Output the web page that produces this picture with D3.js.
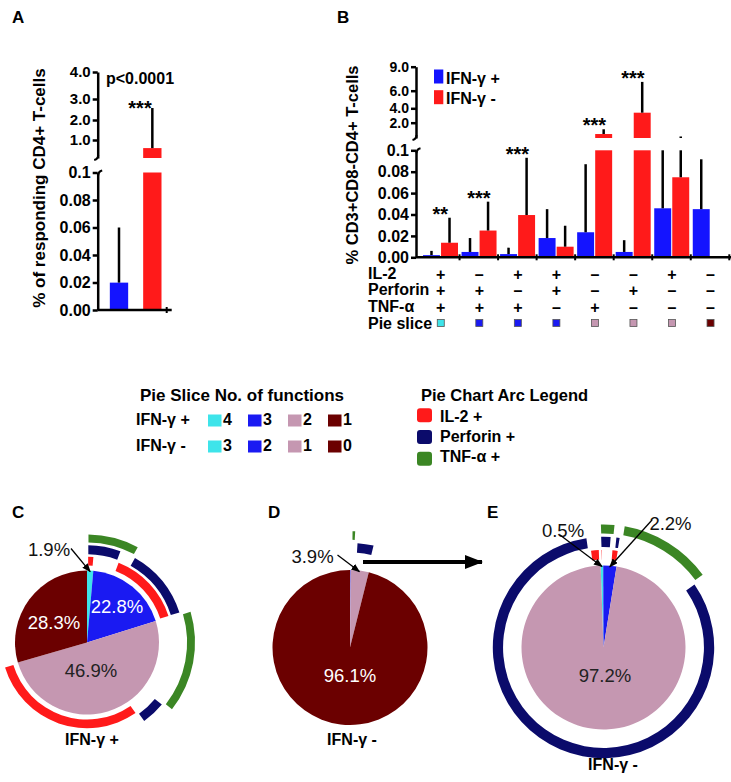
<!DOCTYPE html>
<html>
<head>
<meta charset="utf-8">
<script src="https://cdn.jsdelivr.net/npm/d3@7/dist/d3.min.js"></script>
<style>
  body { margin: 0; background: #fff; }
  svg text { font-family: "Liberation Sans", Arial, sans-serif; }
</style>
</head>
<body>
<svg id="fig" width="731" height="782"></svg>
<script>
// ---- panel A: total responding CD4+ T-cells
var aGroups = ["IFN-γ +", "IFN-γ -"];
var aValues = [0.0199, 0.55];
var aErrors = [0.06, 2.57];
var aUpperTicks = [1, 2, 3, 4];
var aUpperLabels = ["1.0", "2.0", "3.0", "4.0"];

// lower (0 - 0.1) segment, same for A and B
var lowTicks = [0, 0.02, 0.04, 0.06, 0.08, 0.1];
var lowLabels = ["0.00", "0.02", "0.04", "0.06", "0.08", "0.1"];

// ---- panel B: function combos (IL-2, Perforin, TNF-α)
var combos = ["+++", "-++", "+-+", "++-", "--+", "-+-", "+--", "---"];
var posValues = [0.002, 0.005, 0.003, 0.018, 0.0234, 0.005, 0.0458, 0.045];
var posErrors = [0.006, 0.018, 0.009, 0.045, 0.087, 0.016, 0.1, 0.0916];
var negValues = [0.0136, 0.025, 0.0395, 0.0099, 0.52, 3.39, 0.0748, 0];
var negErrors = [0.037, 0.052, 0.093, 0.0295, 1.14, 7.1, 0.2, 0];
var stars = ["**", "***", "***", "", "***", "***", "", ""];
var bUpperTicks = [2, 4, 6, 9];
var bUpperLabels = ["2.0", "4.0", "6.0", "9.0"];
var functionNames = ["IL-2", "Perforin", "TNF-α"];

// ---- legends
var sliceColors = ["#3ee4ea", "#1a1af2", "#c597b1", "#6b0000"];
var posFunctionCounts = ["4", "3", " 2", "1"];
var negFunctionCounts = ["3", "2", " 1", "0"];
var arcNames = ["IL-2 +", "Perforin +", "TNF-α +"];
var arcColors = ["#ff1a1a", "#0b0b6b", "#3b8624"];
var barColors = {pos: "#1414ff", neg: "#ff1a1a"};

// ---- pies (percent of each combo, same order as combos)
var pieCValues = [1.4, 4.4, 2.2, 12.2, 15.6, 4.4, 30.3, 29.5];
var pieCLabels = ["1.9%", "22.8%", "46.9%", "28.3%"];
var pieDValues = [0.02, 0.05, 0.02, 0.04, 0.8, 2.9, 0.07, 96.1];
var pieDLabels = ["3.9%", "96.1%"];
var pieECombos = ["+++", "-++", "+-+", "++-", "--+", "-+-", "+--"];
var pieEValues = [0.5, 1.3, 0.4, 0.9, 12.6, 82.6, 1.7];
var pieELabels = ["0.5%", "2.2%", "97.2%"];


var svg = d3.select("#fig");

var defs = svg.append("defs");
defs.append("marker").attr("id", "headSmall")
    .attr("markerUnits", "userSpaceOnUse").attr("markerWidth", 9).attr("markerHeight", 7)
    .attr("refX", 8).attr("refY", 3.5).attr("orient", "auto")
  .append("path").attr("d", "M0,0L9,3.5L0,7z").attr("fill", "#000");
defs.append("marker").attr("id", "headBig")
    .attr("markerUnits", "userSpaceOnUse").attr("markerWidth", 18).attr("markerHeight", 14)
    .attr("refX", 17).attr("refY", 7).attr("orient", "auto")
  .append("path").attr("d", "M0,0L18,7L0,14z").attr("fill", "#000");

function boldText(x, y, txt, size, anchor) {
  return svg.append("text").attr("x", x).attr("y", y)
    .attr("font-size", size).attr("font-weight", "bold")
    .attr("text-anchor", anchor || "start").text(txt);
}

function styleAxis(g) {
  g.selectAll(".domain, .tick line").attr("stroke", "#000").attr("stroke-width", 2.5);
  g.selectAll(".tick text").attr("font-weight", "bold").attr("fill", "#000");
}

// y axis in two segments, with small hooks where it is broken
function drawYAxis(x, lower, upper, upTicks, upLabels, upSize) {
  var g = svg.append("g").attr("transform", "translate(" + x + ",0)");
  g.append("g").call(d3.axisLeft(lower).tickValues(lowTicks)
      .tickFormat(function(d, i) { return lowLabels[i]; })
      .tickSize(5).tickSizeOuter(0).tickPadding(2))
    .selectAll(".tick text").attr("font-size", 16);
  g.append("g").call(d3.axisLeft(upper).tickValues(upTicks)
      .tickFormat(function(d, i) { return upLabels[i]; })
      .tickSize(5).tickSizeOuter(0).tickPadding(2))
    .selectAll(".tick text").attr("font-size", upSize);
  styleAxis(g);

  var yb = upper(0), yt = lower(lower.domain()[1]);
  g.append("path").attr("d", "M0.5," + (yb - 3) + "Q0.5," + (yb + 1) + " -3.5," + (yb + 2))
    .attr("fill", "none").attr("stroke", "#000").attr("stroke-width", 2);
  g.append("path").attr("d", "M0.5," + (yt + 3) + "Q0.5," + (yt - 1) + " 4.5," + (yt - 2))
    .attr("fill", "none").attr("stroke", "#000").attr("stroke-width", 2);
}

// bar that may continue into the upper segment
function drawBar(xl, w, v, lower, upper, color) {
  if (v <= 0) return;
  var lowMax = lower.domain()[1];
  var vLow = Math.min(v, lowMax);
  svg.append("rect").attr("x", xl).attr("width", w)
    .attr("y", lower(vLow)).attr("height", lower(0) - lower(vLow)).attr("fill", color);
  if (v > lowMax) {
    svg.append("rect").attr("x", xl).attr("width", w)
      .attr("y", upper(v)).attr("height", upper(0) - upper(v)).attr("fill", color);
  }
}

// error whisker (upwards only), returns the y of its top
function drawErr(xc, v, e, lower, upper) {
  var lowMax = lower.domain()[1];
  if (e <= v) return v > lowMax ? upper(v) : lower(v);
  var top;
  if (v < lowMax) {
    top = lower(Math.min(e, lowMax));
    svg.append("line").attr("x1", xc).attr("x2", xc).attr("y1", lower(v)).attr("y2", top)
      .attr("stroke", "#000").attr("stroke-width", 2.5);
  }
  if (e > lowMax) {
    top = upper(e);
    svg.append("line").attr("x1", xc).attr("x2", xc).attr("y1", upper(v > lowMax ? v : 0)).attr("y2", top)
      .attr("stroke", "#000").attr("stroke-width", 2.5);
  }
  return top;
}


// PANEL A ––––––––––––––––––––––––––––––––––––––––––––––––––––––––––
var aAxisX = 97.7;
var aLower = d3.scaleLinear().domain([0, 0.1]).range([310, 172.5]);
var aUpper = d3.scaleLinear().domain([0, 1, 2, 3, 4]).range([158, 140, 120, 99, 72]);
var aX = d3.scaleBand().domain(aGroups).range([aAxisX, 166.7])
  .paddingInner(0.45).paddingOuter(0.26).align(0.7);

boldText(12, 23, "A", 17);

aGroups.forEach(function(grp, i) {
  var col = i === 0 ? barColors.pos : barColors.neg;
  drawBar(aX(grp), aX.bandwidth(), aValues[i], aLower, aUpper, col);
  drawErr(aX(grp) + aX.bandwidth() / 2, aValues[i], aErrors[i], aLower, aUpper);
});

drawYAxis(aAxisX, aLower, aUpper, aUpperTicks, aUpperLabels, 15);

// x axis
svg.append("line").attr("x1", aAxisX).attr("x2", aX.range()[1] + 5)
  .attr("y1", aLower(0)).attr("y2", aLower(0)).attr("stroke", "#000").attr("stroke-width", 2.5);
svg.append("line").attr("x1", aX.range()[1]).attr("x2", aX.range()[1])
  .attr("y1", aLower(0) - 3).attr("y2", aLower(0) + 3).attr("stroke", "#000").attr("stroke-width", 2);

boldText(140, 84, "p<0.0001", 16, "middle");
boldText(140, 114.5, "***", 20, "middle");

svg.append("text").attr("transform", "translate(45,188) rotate(-90)")
  .attr("text-anchor", "middle").attr("font-size", 17).attr("font-weight", "bold")
  .text("% of responding CD4+ T-cells");


// PANEL B ––––––––––––––––––––––––––––––––––––––––––––––––––––––––––
var bAxisX = 416;
var bLower = d3.scaleLinear().domain([0, 0.1]).range([257.3, 150.3]);
var bUpper = d3.scaleLinear().domain([0, 2, 4, 6, 9]).range([138, 122.7, 108.3, 90.7, 66.7]);
var x0 = d3.scaleBand().domain(combos).range([421, 729.3]);
var x1 = d3.scaleBand().domain(["pos", "neg"]).range([2, 37]).paddingInner(0.06);

boldText(337, 23, "B", 17);

combos.forEach(function(c, i) {
  var gx = x0(c);
  drawBar(gx + x1("pos"), x1.bandwidth(), posValues[i], bLower, bUpper, barColors.pos);
  drawBar(gx + x1("neg"), x1.bandwidth(), negValues[i], bLower, bUpper, barColors.neg);
  var t1 = drawErr(gx + x1("pos") + x1.bandwidth() / 2, posValues[i], posErrors[i], bLower, bUpper);
  var t2 = drawErr(gx + x1("neg") + x1.bandwidth() / 2, negValues[i], negErrors[i], bLower, bUpper);
  if (stars[i]) {
    boldText(gx + x0.step() / 2, Math.min(t1, t2) + 3, stars[i], 20, "middle");
  }
});

drawYAxis(bAxisX, bLower, bUpper, bUpperTicks, bUpperLabels, 14);

svg.append("line").attr("x1", bAxisX).attr("x2", 731)
  .attr("y1", bLower(0)).attr("y2", bLower(0)).attr("stroke", "#000").attr("stroke-width", 2.5);
combos.forEach(function(c) {
  var tx = x0(c) + x0.step();
  svg.append("line").attr("x1", tx).attr("x2", tx)
    .attr("y1", bLower(0) - 3).attr("y2", bLower(0) + 3).attr("stroke", "#000").attr("stroke-width", 2);
});

svg.append("text").attr("transform", "translate(358,165) rotate(-90)")
  .attr("text-anchor", "middle").attr("font-size", 16.5).attr("font-weight", "bold")
  .text("% CD3+CD8-CD4+ T-cells");

// legend
[["pos", "IFN-γ +"], ["neg", "IFN-γ -"]].forEach(function(d, i) {
  svg.append("rect").attr("x", 434).attr("y", 69.5 + i * 20.7).attr("width", 9.3).attr("height", 14)
    .attr("fill", barColors[d[0]]);
  boldText(446, 83.5 + i * 20.7, d[1], 16);
});

// combination table under the axis
var rowY = [279, 295, 311.5];
functionNames.forEach(function(name, r) {
  boldText(368, rowY[r], name, 16);
  combos.forEach(function(c) {
    boldText(x0(c) + x0.step() / 2 + 0.5, rowY[r] + 1, c[r] === "+" ? "+" : "–", 16, "middle");
  });
});
boldText(368, 329, "Pie slice", 16);
combos.forEach(function(c) {
  svg.append("rect").attr("x", x0(c) + x0.step() / 2 - 3).attr("y", 319.5)
    .attr("width", 7).attr("height", 7)
    .attr("fill", sliceColors[3 - (c.split("+").length - 1)])
    .attr("stroke", "#555").attr("stroke-width", 0.8);
});


// PIE LEGENDS ––––––––––––––––––––––––––––––––––––––––––––––––––––––
boldText(140, 401, "Pie Slice No. of functions", 17);
[["IFN-γ +", posFunctionCounts], ["IFN-γ -", negFunctionCounts]].forEach(function(row, r) {
  var by = 425 + r * 26;
  boldText(136, by, row[0], 16);
  row[1].forEach(function(n, k) {
    svg.append("rect").attr("x", 208 + k * 40).attr("y", by - 10.5)
      .attr("width", 13.5).attr("height", 12).attr("fill", sliceColors[k]);
    boldText(208 + k * 40 + 15, by, n, 16);
  });
});

boldText(421, 401, "Pie Chart Arc Legend", 16.5);
arcNames.forEach(function(name, i) {
  svg.append("rect").attr("x", 417).attr("y", 408.3 + i * 21.7).attr("width", 15).attr("height", 14)
    .attr("rx", 3).attr("fill", arcColors[i]);
  boldText(440, 422 + i * 20, name, 16);
});


// PIES –––––––––––––––––––––––––––––––––––––––––––––––––––––––––––––
var ringIn = [1.07, 1.225, 1.39], ringOut = [1.19, 1.35, 1.5];

function plusCount(c) { return c.split("+").length - 1; }

// merge consecutive pie slices that pass a test
function runs(arcs, test) {
  var out = [], cur = null;
  arcs.forEach(function(a) {
    if (test(a.data.combo)) {
      if (cur) { cur.endAngle = a.endAngle; }
      else { cur = {startAngle: a.startAngle, endAngle: a.endAngle}; out.push(cur); }
    } else { cur = null; }
  });
  return out;
}

function drawPie(cx, cy, r, comboList, values, startDeg, labels) {
  var g = svg.append("g").attr("transform", "translate(" + cx + "," + cy + ")");
  var a0 = startDeg * Math.PI / 180;
  var data = comboList.map(function(c, i) { return {combo: c, value: values[i]}; });
  var arcs = d3.pie().sort(null).value(function(d) { return d.value; })
    .startAngle(a0).endAngle(a0 + 2 * Math.PI)(data);

  var wedge = d3.arc().innerRadius(0).outerRadius(r);
  sliceColors.forEach(function(col, k) {
    runs(arcs, function(c) { return 3 - plusCount(c) === k; }).forEach(function(span) {
      g.append("path").attr("d", wedge(span)).attr("fill", col);
    });
  });

  arcColors.forEach(function(col, f) {
    var ring = d3.arc().innerRadius(r * ringIn[f]).outerRadius(r * ringOut[f]).padAngle(0.02);
    runs(arcs, function(c) { return c[f] === "+"; }).forEach(function(span) {
      g.append("path").attr("d", ring(span)).attr("fill", col);
    });
  });

  labels.forEach(function(lb) {
    g.append("text").attr("x", lb.at[0]).attr("y", lb.at[1]).attr("dy", "0.36em")
      .attr("text-anchor", "middle").attr("font-size", 18.5).attr("fill", lb.fill)
      .text(lb.text);
    if (lb.from) {
      var span = runs(arcs, function(c) { return lb.cats.indexOf(3 - plusCount(c)) >= 0; })[0];
      var mid = (span.startAngle + span.endAngle) / 2;
      g.append("line")
        .attr("x1", lb.at[0] + lb.from[0]).attr("y1", lb.at[1] + lb.from[1])
        .attr("x2", Math.sin(mid) * (r - 1)).attr("y2", -Math.cos(mid) * (r - 1))
        .attr("stroke", "#000").attr("stroke-width", 1.3).attr("marker-end", "url(#headSmall)");
    }
  });
}

boldText(12, 518, "C", 17);
drawPie(87, 642.5, 72, combos, pieCValues, 0, [
  {text: pieCLabels[0], cats: [0], at: [-38, -93], fill: "#111", from: [22, -1]},
  {text: pieCLabels[1], cats: [1], at: [30, -36.5], fill: "#fff"},
  {text: pieCLabels[2], cats: [2], at: [4, 27.5], fill: "#222"},
  {text: pieCLabels[3], cats: [3], at: [-33, -20], fill: "#fff"}
]);
boldText(92, 745, "IFN-γ +", 16, "middle");

boldText(268, 518, "D", 17);
drawPie(350, 647.5, 77.5, combos, pieDValues, 0, [
  {text: pieDLabels[0], cats: [0, 1, 2], at: [-37.5, -91.5], fill: "#111", from: [25, -1]},
  {text: pieDLabels[1], cats: [3], at: [0, 28], fill: "#fff"}
]);
boldText(352, 745, "IFN-γ -", 16, "middle");

boldText(487, 518, "E", 17);
drawPie(603.5, 647.5, 82, pieECombos, pieEValues, -2, [
  {text: pieELabels[0], cats: [0], at: [-40.5, -117.5], fill: "#111", from: [-3, 5]},
  {text: pieELabels[1], cats: [1], at: [67, -124.5], fill: "#111", from: [-18.5, -3]},
  {text: pieELabels[2], cats: [2], at: [1.5, 28], fill: "#222"}
]);
boldText(613, 770, "IFN-γ -", 16, "middle");

// D -> E arrow
svg.append("line").attr("x1", 363).attr("y1", 562).attr("x2", 482).attr("y2", 562)
  .attr("stroke", "#000").attr("stroke-width", 4).attr("marker-end", "url(#headBig)");
</script>
</body>
</html>
